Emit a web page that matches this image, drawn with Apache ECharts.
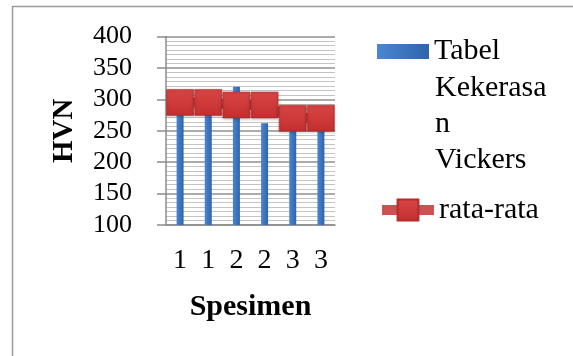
<!DOCTYPE html>
<html>
<head>
<meta charset="utf-8">
<script src="https://cdn.jsdelivr.net/npm/echarts@6/dist/echarts.min.js"></script>
<style>
html,body{margin:0;padding:0;background:#fff;}
#chart{width:573px;height:356px;}
</style>
</head>
<body>
<div id="chart"></div>
<script>
var categories = ['1', '1', '2', '2', '3', '3'];
var hardness = [300, 290, 320, 262, 275, 265];
var average = [295, 295, 291, 291, 270, 270];
var yTicks = [100, 150, 200, 250, 300, 350, 400];
var barName = 'Tabel Kekerasan Vickers';
var barLegendFirst = 'Tabel';
var barLegendRest = 'Kekerasa\nn\nVickers';
var lineName = 'rata-rata';

var FONT = '"Liberation Serif", "Times New Roman", serif';
var chart = echarts.init(document.getElementById('chart'), null, {renderer: 'canvas'});
chart.setOption({
  backgroundColor: '#ffffff',
  animation: false,
  graphic: [{
    type: 'rect', silent: true,
    shape: {x: 12.5, y: 6.5, width: 600, height: 400},
    style: {fill: 'none', stroke: '#9a9a9a', lineWidth: 1.5}
  }, {
    type: 'text', silent: true,
    x: 435, y: 70,
    style: {text: barLegendRest, fill: '#000', font: '30px ' + FONT, lineHeight: 36,
      textAlign: 'left', textVerticalAlign: 'top'}
  }],
  grid: {left: 166, right: 238, top: 36.5, bottom: 131, containLabel: false},
  legend: [{
    data: [barName],
    orient: 'vertical',
    left: 377, top: 36.5,
    padding: 0,
    icon: 'rect',
    itemWidth: 52, itemHeight: 15,
    itemGap: 6,
    formatter: function () { return barLegendFirst; },
    textStyle: {fontFamily: FONT, fontSize: 30, lineHeight: 30, color: '#000'}
  }, {
    data: [lineName],
    orient: 'vertical',
    left: 377, top: 195,
    padding: 0,
    itemWidth: 52, itemHeight: 26,
    itemGap: 6,
    lineStyle: {width: 10, color: '#cf5050'},
    textStyle: {fontFamily: FONT, fontSize: 30, color: '#000'}
  }],
  xAxis: {
    type: 'category',
    data: categories,
    name: 'Spesimen',
    nameLocation: 'middle',
    nameGap: 67,
    nameTextStyle: {fontFamily: FONT, fontSize: 30, fontWeight: 'bold', color: '#000'},
    axisLine: {show: true, lineStyle: {color: '#8c8c8c', width: 1.5}},
    axisTick: {show: false},
    axisLabel: {fontFamily: FONT, fontSize: 28, color: '#000', margin: 22},
    splitLine: {show: false}
  },
  yAxis: {
    type: 'value',
    min: 100, max: 400, interval: 50,
    name: 'HVN',
    nameLocation: 'middle',
    nameGap: 87,
    nameRotate: 90,
    nameTextStyle: {fontFamily: FONT, fontSize: 29, fontWeight: 'bold', color: '#000'},
    axisLine: {show: true, lineStyle: {color: '#8c8c8c', width: 1.5}},
    axisTick: {show: true, length: 9, lineStyle: {color: '#8c8c8c', width: 1.5}},
    axisLabel: {fontFamily: FONT, fontSize: 26, color: '#000', margin: 34,
      formatter: function (v) { return yTicks.indexOf(v) >= 0 ? String(v) : ''; }},
    splitLine: {show: true, lineStyle: {color: '#8f8f8f', width: 1.5}},
    minorTick: {show: false, splitNumber: 7},
    minorSplitLine: {show: true, lineStyle: {color: '#c4c4c4', width: 1}}
  },
  series: [{
    name: barName,
    type: 'bar',
    data: hardness,
    barWidth: 7,
    itemStyle: {color: new echarts.graphic.LinearGradient(0, 0, 1, 0, [
      {offset: 0, color: '#4a86d2'}, {offset: 1, color: '#2f64ad'}])}
  }, {
    name: lineName,
    type: 'line',
    data: average,
    symbol: 'rect',
    symbolSize: [27, 26],
    lineStyle: {color: '#cf4a4a', width: 10},
    itemStyle: {color: new echarts.graphic.LinearGradient(0, 0, 0, 1, [
      {offset: 0, color: '#d94545'}, {offset: 1, color: '#c42e2e'}]),
      borderColor: '#b52a2a', borderWidth: 0.5,
      shadowBlur: 3, shadowColor: 'rgba(0,0,0,0.35)', shadowOffsetY: 1},
    z: 3
  }]
});
</script>
</body>
</html>
